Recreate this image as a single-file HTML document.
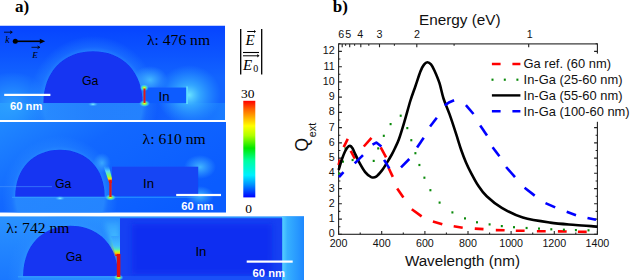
<!DOCTYPE html>
<html><head><meta charset="utf-8"><style>
html,body{margin:0;padding:0;background:#fff;width:637px;height:280px;overflow:hidden}
svg{display:block}
</style></head><body>
<svg width="637" height="280" viewBox="0 0 637 280">
<defs>
<linearGradient id="cb" x1="0" y1="0" x2="0" y2="1">
<stop offset="0" stop-color="#ff0000"/>
<stop offset="0.085" stop-color="#ff6000"/>
<stop offset="0.26" stop-color="#ffff00"/>
<stop offset="0.36" stop-color="#b0ff00"/>
<stop offset="0.49" stop-color="#00e800"/>
<stop offset="0.62" stop-color="#00ffa0"/>
<stop offset="0.77" stop-color="#00f0ff"/>
<stop offset="0.87" stop-color="#0090ff"/>
<stop offset="1" stop-color="#0000ff"/>
</linearGradient>
<linearGradient id="gap" x1="0" y1="0" x2="0" y2="1">
<stop offset="0" stop-color="#e0ff00"/>
<stop offset="0.15" stop-color="#ff2000"/>
<stop offset="0.85" stop-color="#e00000"/>
<stop offset="1" stop-color="#e0ff00"/>
</linearGradient>
<radialGradient id="glow" cx="0.5" cy="0.5" r="0.5">
<stop offset="0" stop-color="#60f0ff" stop-opacity="0.9"/>
<stop offset="1" stop-color="#30b0ff" stop-opacity="0"/>
</radialGradient>
</defs>
<defs><radialGradient id="fade"><stop offset="0" stop-color="#fff" stop-opacity="1"/><stop offset="1" stop-color="#fff" stop-opacity="0"/></radialGradient><radialGradient id="g_lb"><stop offset="0" stop-color="#2fa4ff" stop-opacity="0.9"/><stop offset="1" stop-color="#2fa4ff" stop-opacity="0"/></radialGradient><radialGradient id="g_cy"><stop offset="0" stop-color="#6ae4ff" stop-opacity="1"/><stop offset="0.35" stop-color="#40c0ff" stop-opacity="0.7"/><stop offset="1" stop-color="#30a8ff" stop-opacity="0"/></radialGradient><radialGradient id="g_lc"><stop offset="0" stop-color="#48c0ff" stop-opacity="0.9"/><stop offset="1" stop-color="#40b0ff" stop-opacity="0"/></radialGradient><radialGradient id="halo"><stop offset="0.76" stop-color="#2e94ff" stop-opacity="0.7"/><stop offset="0.84" stop-color="#2a8cff" stop-opacity="0.35"/><stop offset="1" stop-color="#2a8cff" stop-opacity="0"/></radialGradient><radialGradient id="hotY"><stop offset="0" stop-color="#f0ff20"/><stop offset="0.3" stop-color="#a0ff40" stop-opacity="0.9"/><stop offset="0.65" stop-color="#40f0e0" stop-opacity="0.6"/><stop offset="1" stop-color="#40c0ff" stop-opacity="0"/></radialGradient><radialGradient id="spot"><stop offset="0" stop-color="#80f0ff" stop-opacity="1"/><stop offset="1" stop-color="#40b0ff" stop-opacity="0"/></radialGradient><linearGradient id="p1" x1="0" y1="0" x2="0" y2="1"><stop offset="0" stop-color="#0644ff"/><stop offset="0.3" stop-color="#0c54ff"/><stop offset="0.55" stop-color="#1264ff"/><stop offset="1" stop-color="#1264ff"/></linearGradient><linearGradient id="p1b" x1="0" y1="0" x2="1" y2="0"><stop offset="0" stop-color="#2090ff"/><stop offset="0.2" stop-color="#1672ff"/><stop offset="0.42" stop-color="#0c52fa"/><stop offset="0.62" stop-color="#0c56fc"/><stop offset="0.8" stop-color="#1466ff"/><stop offset="1" stop-color="#1a7cff"/></linearGradient><linearGradient id="p2" x1="0" y1="0" x2="1" y2="0.6"><stop offset="0" stop-color="#2088ff"/><stop offset="0.4" stop-color="#1268ff"/><stop offset="1" stop-color="#0a5cff"/></linearGradient><linearGradient id="p3" x1="0" y1="0" x2="0" y2="1"><stop offset="0" stop-color="#2a92ff"/><stop offset="1" stop-color="#1a78ff"/></linearGradient><linearGradient id="rs" x1="0" y1="0" x2="1" y2="0"><stop offset="0" stop-color="#58d0ff"/><stop offset="0.25" stop-color="#36b0ff"/><stop offset="1" stop-color="#1e88ff"/></linearGradient><linearGradient id="wedge3" x1="0" y1="0" x2="0" y2="1"><stop offset="0" stop-color="#34a0ff"/><stop offset="0.5" stop-color="#44c0ff"/><stop offset="0.66" stop-color="#50e4c8"/><stop offset="0.76" stop-color="#a0ff40"/><stop offset="0.86" stop-color="#ffd000"/><stop offset="0.95" stop-color="#ff3000"/><stop offset="1" stop-color="#e00000"/></linearGradient><linearGradient id="wedge2" x1="0" y1="0" x2="0" y2="1"><stop offset="0" stop-color="#40b8ff" stop-opacity="0"/><stop offset="0.3" stop-color="#50d8ff"/><stop offset="0.6" stop-color="#80ff60"/><stop offset="0.75" stop-color="#ffe000"/><stop offset="0.88" stop-color="#ff3000"/><stop offset="1" stop-color="#e00000"/></linearGradient><filter id="sb" x="-10%" y="-10%" width="120%" height="120%"><feGaussianBlur stdDeviation="0.6"/></filter><filter id="bb" x="-20%" y="-20%" width="140%" height="140%"><feGaussianBlur stdDeviation="2.5"/></filter><clipPath id="c1"><rect x="0" y="25.5" width="225.1" height="94.5"/></clipPath><clipPath id="c2"><rect x="0" y="121.9" width="226" height="90.8"/></clipPath><clipPath id="c3"><rect x="0" y="216.2" width="304" height="63.8"/></clipPath></defs>
<g clip-path="url(#c1)">
<rect x="0" y="25.5" width="225.1" height="94.5" fill="url(#p1)"/>
<rect x="0" y="103" width="225" height="17" fill="url(#p1b)"/>
<ellipse cx="93" cy="103" rx="65" ry="67" fill="url(#halo)"/>
<ellipse cx="12" cy="104" rx="38" ry="32" fill="url(#g_lb)"/>
<ellipse cx="150" cy="80" rx="18" ry="14" fill="url(#g_lc)"/>
<ellipse cx="189" cy="95" rx="32" ry="30" fill="url(#g_cy)"/>
<g filter="url(#sb)">
<path d="M43.4,103.0 C43.4,72.0 63.2,51.3 93.0,51.3 C122.8,51.3 142.6,72.0 142.6,103.0 Z" fill="#1234f2"/>
<rect x="145.6" y="87.5" width="41.3" height="15.6" fill="#105cff"/>
</g>
<ellipse cx="93" cy="104.3" rx="5" ry="2.2" fill="url(#spot)"/>
<rect x="186.2" y="86.5" width="1.6" height="17.5" fill="#60e0ff" filter="url(#sb)"/>
<ellipse cx="144.3" cy="87.8" rx="4.5" ry="3.5" fill="url(#hotY)"/>
<ellipse cx="144.5" cy="103.5" rx="5.5" ry="3.5" fill="url(#hotY)"/>
<rect x="143.5" y="88.5" width="2" height="14.5" fill="#e01818"/>
</g>
<g clip-path="url(#c2)">
<rect x="0" y="121.9" width="226" height="90.8" fill="url(#p2)"/>
<ellipse cx="60" cy="197" rx="58" ry="61" fill="url(#halo)"/>
<ellipse cx="102" cy="163" rx="9" ry="10" fill="url(#g_lc)" opacity="0.8"/>
<ellipse cx="200" cy="167" rx="16" ry="12" fill="url(#g_lc)"/>
<ellipse cx="200" cy="196" rx="14" ry="10" fill="url(#g_lc)"/>
<g filter="url(#sb)">
<path d="M15.2,196.8 C15.2,168.6 33.1,149.8 60.0,149.8 C86.8,149.8 104.7,168.6 104.7,196.8 Z" fill="#1234f2"/>
<rect x="112" y="166.7" width="86.2" height="29.4" fill="#1444f4"/>
</g>
<rect x="12" y="196.8" width="188" height="1.1" fill="#3aa8ff" opacity="0.6" filter="url(#sb)"/>
<ellipse cx="60" cy="198.3" rx="5" ry="2.2" fill="url(#spot)"/>
<path d="M103.5,166 L109,166 L111.8,178 L111.8,183 L109.2,183 Z" fill="url(#wedge2)" filter="url(#sb)"/>
<ellipse cx="110.5" cy="197.5" rx="5.5" ry="3.2" fill="url(#hotY)"/>
<rect x="109.3" y="180" width="2.3" height="17" fill="#e01818"/>
<rect x="0" y="186.3" width="52" height="0.8" fill="#4a9aff" opacity="0.7"/>
</g>
<g clip-path="url(#c3)">
<rect x="0" y="216.2" width="304" height="63.8" fill="url(#p3)"/>
<ellipse cx="70.5" cy="276" rx="63" ry="66" fill="url(#halo)"/>
<rect x="282" y="216.2" width="22" height="63.8" fill="url(#rs)"/>
<path d="M104,222 H120 V256 H115 Z" fill="url(#wedge3)" filter="url(#bb)" opacity="0.9"/>
<path d="M111,236 H120 V256 H115.5 Z" fill="url(#wedge3)" filter="url(#sb)"/>
<g filter="url(#sb)">
<path d="M23.1,276.2 C23.1,246.0 42.1,225.8 70.5,225.8 C99.0,225.8 118.0,246.0 118.0,276.2 Z" fill="#1234f2"/>
<rect x="120" y="218.2" width="162.2" height="58.4" fill="#1840f2"/>
</g>
<rect x="132" y="224" width="140" height="50" fill="#0e2af0" filter="url(#bb)" opacity="0.8"/>
<rect x="120" y="276.3" width="162" height="4" fill="#1a50f8"/>
<rect x="18" y="276.2" width="102" height="1.2" fill="#3aa8ff" opacity="0.8" filter="url(#sb)"/>
<ellipse cx="118.5" cy="277.5" rx="5" ry="3" fill="url(#hotY)"/>
<rect x="116.8" y="254" width="3.6" height="23" fill="#e01010"/>
</g>
<rect x="243.3" y="100.8" width="12" height="96.6" fill="url(#cb)"/>
<g font-family="Liberation Serif, serif" font-size="13.5" fill="#000"><text x="247.8" y="98.3" text-anchor="middle">30</text><text x="248.6" y="212.6" text-anchor="middle">0</text></g>
<g stroke="#000" stroke-width="1.3"><path d="M240.7,29V74.6M261.7,29V74.6"/><path d="M243,52.5H259" stroke-width="1.1"/></g>
<g font-family="Liberation Serif, serif" font-style="italic" font-size="15" fill="#000"><text x="245.5" y="45.2">E</text><text x="243" y="69.6">E</text></g>
<text x="253.3" y="72.4" font-family="Liberation Serif, serif" font-size="10" fill="#000">0</text>
<g stroke="#000" stroke-width="1" fill="#000"><path d="M247.2,31.5H254.5"/><path d="M243,55.8H257.8"/></g>
<path d="M256,31.5l-2,-1.6v3.2z M259.5,55.8l-2.2,-1.8v3.6z" fill="#000"/>
<g font-family="Liberation Serif, serif" font-size="15.6" fill="#000"><text x="147" y="45">&#955;: 476 nm</text><text x="142.6" y="144">&#955;: 610 nm</text><text x="6.3" y="233.4">&#955;: 742 nm</text></g>
<g font-family="Liberation Sans, sans-serif" font-size="12.3" fill="#000"><text x="82" y="85">Ga</text><text x="158.6" y="101" font-size="13.2">In</text><text x="54.9" y="188.4">Ga</text><text x="143" y="188.4" font-size="13.2">In</text><text x="65.8" y="261">Ga</text><text x="195.4" y="256" font-size="13.2">In</text></g>
<g fill="#fff"><rect x="4.2" y="93.8" width="46.2" height="2.2"/><rect x="176.2" y="193.9" width="44.8" height="2.2"/><rect x="246.7" y="260.5" width="46" height="2.2"/></g>
<g font-family="Liberation Sans, sans-serif" font-weight="bold" font-size="11.2" fill="#fff"><text x="10" y="109.8">60 nm</text><text x="181.2" y="210">60 nm</text><text x="252.6" y="276.8">60 nm</text></g>
<circle cx="15.3" cy="41.3" r="2.5" fill="#000"/><path d="M15.3,41.3H40.5" stroke="#000" stroke-width="1.6"/><path d="M45.2,41.3L39.8,38.8V43.8Z" fill="#000"/>
<g font-family="Liberation Serif, serif" font-style="italic" font-size="9" fill="#000"><text x="5.2" y="42.8" font-size="9.6">k</text><text x="32.2" y="57.8">E</text></g>
<g stroke="#000" stroke-width="0.8" fill="none"><path d="M4,32.2H12M10,30.9L12.3,32.2L10,33.5"/><path d="M31.5,47.3H39.5M37.5,46L39.8,47.3L37.5,48.6"/></g>
<text x="15" y="12.1" font-family="Liberation Serif, serif" font-weight="bold" font-size="17" fill="#000">a)</text>
<g fill="none" stroke="#000" stroke-width="1.1">
<rect x="338.6" y="43.9" width="258.8" height="190.4" stroke="#222"/>
<path d="M338.6,234.3v-3.3 M360.2,234.3v-1.8 M381.7,234.3v-3.3 M403.3,234.3v-1.8 M424.9,234.3v-3.3 M446.4,234.3v-1.8 M468.0,234.3v-3.3 M489.6,234.3v-1.8 M511.1,234.3v-3.3 M532.7,234.3v-1.8 M554.3,234.3v-3.3 M575.8,234.3v-1.8 M597.4,234.3v-3.3 M338.6,234.3h3.3 M597.4,234.3h-3.3 M338.6,226.7h1.8 M597.4,226.7h-1.8 M338.6,219.1h3.3 M597.4,219.1h-3.3 M338.6,211.4h1.8 M597.4,211.4h-1.8 M338.6,203.8h3.3 M597.4,203.8h-3.3 M338.6,196.2h1.8 M597.4,196.2h-1.8 M338.6,188.6h3.3 M597.4,188.6h-3.3 M338.6,181.0h1.8 M597.4,181.0h-1.8 M338.6,173.3h3.3 M597.4,173.3h-3.3 M338.6,165.7h1.8 M597.4,165.7h-1.8 M338.6,158.1h3.3 M597.4,158.1h-3.3 M338.6,150.5h1.8 M597.4,150.5h-1.8 M338.6,142.9h3.3 M597.4,142.9h-3.3 M338.6,135.2h1.8 M597.4,135.2h-1.8 M338.6,127.6h3.3 M597.4,127.6h-3.3 M338.6,120.0h1.8 M597.4,120.0h-1.8 M338.6,112.4h3.3 M597.4,112.4h-3.3 M338.6,104.8h1.8 M597.4,104.8h-1.8 M338.6,97.1h3.3 M597.4,97.1h-3.3 M338.6,89.5h1.8 M597.4,89.5h-1.8 M338.6,81.9h3.3 M597.4,81.9h-3.3 M338.6,74.3h1.8 M597.4,74.3h-1.8 M338.6,66.7h3.3 M597.4,66.7h-3.3 M338.6,59.0h1.8 M597.4,59.0h-1.8 M338.6,51.4h3.3 M597.4,51.4h-3.3 M338.6,43.8h1.8 M597.4,43.8h-1.8 M342.2,43.9v3.3 M349.7,43.9v3.3 M360.8,43.9v3.3 M379.5,43.9v3.3 M416.8,43.9v3.3 M528.7,43.9v3.3 M345.6,43.9v1.8 M354.6,43.9v1.8 M368.8,43.9v1.8 M394.4,43.9v1.8 M454.1,43.9v1.8" stroke="#222"/>
</g>
<g font-family="Liberation Sans, sans-serif" font-size="10.7" fill="#111"><text x="338.6" y="247" text-anchor="middle">200</text><text x="381.7" y="247" text-anchor="middle">400</text><text x="424.9" y="247" text-anchor="middle">600</text><text x="468.0" y="247" text-anchor="middle">800</text><text x="511.1" y="247" text-anchor="middle">1000</text><text x="554.3" y="247" text-anchor="middle">1200</text><text x="597.4" y="247" text-anchor="middle">1400</text><text x="334.6" y="237.3" text-anchor="end">0</text><text x="334.6" y="222.1" text-anchor="end">1</text><text x="334.6" y="206.8" text-anchor="end">2</text><text x="334.6" y="191.6" text-anchor="end">3</text><text x="334.6" y="176.3" text-anchor="end">4</text><text x="334.6" y="161.1" text-anchor="end">5</text><text x="334.6" y="145.9" text-anchor="end">6</text><text x="334.6" y="130.6" text-anchor="end">7</text><text x="334.6" y="115.4" text-anchor="end">8</text><text x="334.6" y="100.1" text-anchor="end">9</text><text x="334.6" y="84.9" text-anchor="end">10</text><text x="334.6" y="69.7" text-anchor="end">11</text><text x="334.6" y="54.4" text-anchor="end">12</text><text x="341.2" y="37.9" text-anchor="middle">6</text><text x="348.3" y="37.9" text-anchor="middle">5</text><text x="360.3" y="37.9" text-anchor="middle">4</text><text x="379.4" y="37.9" text-anchor="middle">3</text><text x="417.0" y="37.9" text-anchor="middle">2</text><text x="529.7" y="37.9" text-anchor="middle">1</text></g>
<text x="404.9" y="266" font-family="Liberation Sans, sans-serif" font-size="15.2" fill="#111">Wavelength (nm)</text>
<text x="419" y="24.6" font-family="Liberation Sans, sans-serif" font-size="15.3" fill="#111">Energy (eV)</text>
<g transform="translate(307.5,151.4) rotate(-90)"><text x="0" y="0" font-family="Liberation Sans, sans-serif" font-size="17.5" fill="#111">Q<tspan font-size="10.8" dy="8.1" dx="0.5">ext</tspan></text></g>
<g fill="none" stroke-width="2.6" stroke-linejoin="round">
<path d="M338.6,165.0 L340.0,159.5" stroke="#f00"/>
<path d="M343.7,147.1 L347.8,138.9" stroke="#f00"/>
<path d="M350.7,150.9 L354.9,158.6" stroke="#f00"/>
<path d="M363.8,146.5 L371.5,137.8" stroke="#f00"/>
<path d="M380.7,147.4 L386.1,157.4" stroke="#f00"/>
<path d="M388.5,167.7 L392.8,176.9" stroke="#f00"/>
<path d="M397.2,188.4 L403.4,197.6" stroke="#f00"/>
<path d="M411.8,209.2 L421.6,216.4" stroke="#f00"/>
<path d="M432.9,221.4 L442.3,224.2" stroke="#f00"/>
<path d="M453.7,226.3 L462.7,227.7" stroke="#f00"/>
<path d="M474.8,228.6 L483.5,229.1" stroke="#f00"/>
<path d="M495.8,230.1 L504.6,230.2" stroke="#f00"/>
<path d="M515.8,230.7 L524.6,230.8" stroke="#f00"/>
<path d="M536.9,231.2 L545.7,231.3" stroke="#f00"/>
<path d="M557.9,231.4 L566.7,231.5" stroke="#f00"/>
<path d="M577.9,231.8 L586.7,231.9" stroke="#f00"/>
</g>
<g fill="#0a8a0a"><rect x="338.0" y="172.5" width="2" height="2.2"/><rect x="342.0" y="160.5" width="2" height="2.2"/><rect x="344.5" y="147.4" width="2" height="2.2"/><rect x="351.6" y="158.9" width="2" height="2.2"/><rect x="372.7" y="159.8" width="2" height="2.2"/><rect x="377.2" y="147.3" width="2" height="2.2"/><rect x="382.8" y="134.7" width="2" height="2.2"/><rect x="389.6" y="123.0" width="2" height="2.2"/><rect x="399.7" y="114.6" width="2" height="2.2"/><rect x="406.3" y="127.0" width="2" height="2.2"/><rect x="410.3" y="139.1" width="2" height="2.2"/><rect x="414.4" y="152.1" width="2" height="2.2"/><rect x="418.4" y="163.9" width="2" height="2.2"/><rect x="423.4" y="176.6" width="2" height="2.2"/><rect x="429.4" y="189.1" width="2" height="2.2"/><rect x="438.6" y="201.5" width="2" height="2.2"/><rect x="451.4" y="211.3" width="2" height="2.2"/><rect x="464.0" y="217.3" width="2" height="2.2"/><rect x="476.0" y="221.2" width="2" height="2.2"/><rect x="488.6" y="223.3" width="2" height="2.2"/><rect x="500.8" y="225.0" width="2" height="2.2"/><rect x="513.0" y="226.1" width="2" height="2.2"/><rect x="525.6" y="226.9" width="2" height="2.2"/><rect x="538.0" y="227.5" width="2" height="2.2"/><rect x="550.3" y="228.2" width="2" height="2.2"/><rect x="562.9" y="228.6" width="2" height="2.2"/><rect x="574.9" y="229.0" width="2" height="2.2"/><rect x="587.5" y="229.2" width="2" height="2.2"/></g>
<path d="M338.6,170.0 C339.2,168.2 340.9,162.1 342.0,159.0 C343.1,155.9 344.1,153.4 345.0,151.5 C345.9,149.6 346.5,148.5 347.3,147.6 C348.1,146.7 349.1,145.8 350.0,145.9 C350.9,146.0 351.8,147.2 352.5,148.3 C353.2,149.4 353.4,150.2 354.5,152.5 C355.6,154.8 357.3,158.8 359.1,162.1 C360.9,165.4 363.2,169.6 365.2,172.1 C367.2,174.6 369.4,176.3 371.2,177.1 C373.0,177.8 374.4,177.8 376.2,176.6 C378.0,175.4 380.3,172.5 382.2,170.1 C384.1,167.7 385.8,164.6 387.3,162.1 C388.9,159.6 390.2,157.3 391.5,155.0 C392.8,152.7 393.6,151.1 394.8,148.5 C396.0,145.9 397.2,143.9 398.8,139.5 C400.4,135.1 402.4,128.5 404.3,122.1 C406.2,115.7 408.5,107.0 410.3,101.0 C412.1,95.0 413.7,91.1 415.4,86.2 C417.1,81.3 419.0,75.1 420.4,71.5 C421.8,67.9 422.8,66.1 424.0,64.6 C425.2,63.1 426.2,62.3 427.4,62.3 C428.6,62.3 429.8,63.0 431.0,64.4 C432.2,65.8 433.0,67.4 434.4,70.5 C435.8,73.6 438.0,78.5 439.5,83.2 C441.0,87.9 441.8,93.3 443.5,98.5 C445.2,103.7 447.3,108.0 449.5,114.1 C451.7,120.2 454.6,129.2 456.5,135.2 C458.4,141.2 459.6,145.4 461.2,150.0 C462.8,154.6 464.4,158.7 466.0,162.5 C467.6,166.3 469.0,169.0 471.0,172.8 C473.0,176.6 475.4,181.4 478.0,185.3 C480.6,189.2 482.7,192.5 486.7,196.3 C490.7,200.1 495.8,204.4 501.8,207.9 C507.8,211.4 514.7,215.2 522.8,217.6 C530.9,220.0 541.4,221.4 550.2,222.6 C559.0,223.8 567.6,224.3 575.5,225.0 C583.4,225.7 593.8,226.3 597.4,226.6" fill="none" stroke="#000" stroke-width="2.6" stroke-linejoin="round"/>
<g fill="none" stroke-width="2.6" stroke-linejoin="round">
<path d="M339.0,177.1 L343.5,172.1" stroke="#00f"/>
<path d="M354.7,163.4 L363.0,155.1" stroke="#00f"/>
<path d="M372.5,144.7 L376.3,142.6 L381.4,146.6" stroke="#00f"/>
<path d="M384.1,159.9 L389.3,168.4" stroke="#00f"/>
<path d="M401.0,167.3 L409.3,159.0" stroke="#00f"/>
<path d="M417.1,147.6 L423.7,137.8" stroke="#00f"/>
<path d="M430.1,126.5 L436.8,117.7" stroke="#00f"/>
<path d="M444.7,105.4 L449.5,102.2 L454.1,100.3" stroke="#00f"/>
<path d="M465.9,105.2 L473.5,114.0" stroke="#00f"/>
<path d="M480.2,125.5 L487.0,135.6" stroke="#00f"/>
<path d="M492.6,147.2 L499.4,156.3" stroke="#00f"/>
<path d="M506.1,167.0 L515.0,177.1" stroke="#00f"/>
<path d="M524.6,187.8 L534.7,195.6" stroke="#00f"/>
<path d="M545.5,203.1 L555.2,207.4" stroke="#00f"/>
<path d="M566.7,211.8 L576.0,215.2" stroke="#00f"/>
<path d="M587.5,217.9 L596.0,219.7" stroke="#00f"/>
</g>
<rect x="487" y="53.6" width="150" height="68.2" fill="#fff"/>
<path d="M491.9,64H500.6M512.4,64H520.4" stroke="#f00" stroke-width="2.6"/>
<g fill="#0a8a0a"><rect x="491.5" y="78.6" width="2" height="2.2"/><rect x="503.8" y="78.6" width="2" height="2.2"/><rect x="516.4" y="78.6" width="2" height="2.2"/></g>
<path d="M491.9,95.4H520.4" stroke="#000" stroke-width="2.4"/>
<path d="M491.9,111.3H500.6M512.4,111.3H520.4" stroke="#00f" stroke-width="2.6"/>
<g font-family="Liberation Sans, sans-serif" font-size="12.9" fill="#111"><text x="523.6" y="68.4">Ga ref. (60 nm)</text><text x="523.6" y="84.1">In-Ga (25-60 nm)</text><text x="523.6" y="99.7">In-Ga (55-60 nm)</text><text x="523.6" y="115.5">In-Ga (100-60 nm)</text></g>
<text x="332.8" y="12.2" font-family="Liberation Serif, serif" font-weight="bold" font-size="17" fill="#000">b)</text>
</svg>
</body></html>
